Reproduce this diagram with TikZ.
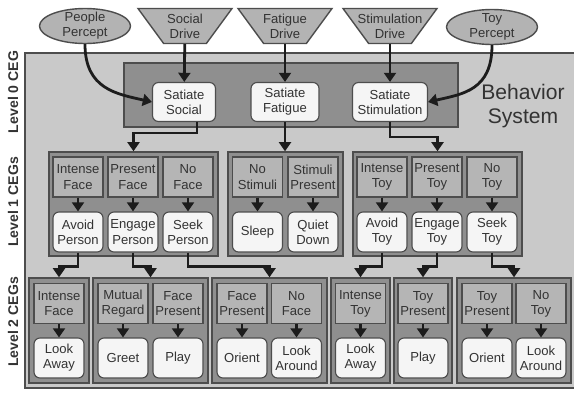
\documentclass[tikz,border=0pt]{standalone}
\usepackage{fontspec}
\setmainfont{Liberation Sans}
\usetikzlibrary{shapes.geometric,arrows.meta}

\tikzset{
    base/.style={font=\fontsize{9.3}{10.8}\selectfont, text=textColour, align=center},
    lbl/.style={base, inner sep=0pt},
    percept/.style={ellipse, draw=borderColour, fill=inputColour, line width=1pt,
        minimum width=22.75mm, minimum height=8.75mm, inner sep=1pt},
    drive/.style={trapezium, shape border rotate=180, trapezium stretches=true,
        trapezium left angle=59, trapezium right angle=59, draw=borderColour,
        fill=inputColour, line width=1pt,
        minimum width=23.5mm, minimum height=8.75mm, inner sep=1pt},
    ceg/.style={draw=borderColour, fill=cegColour, line width=1pt, inner sep=0pt},
    cond/.style={base, draw=borderColour, fill=condColour, line width=0.8pt,
        minimum width=12.5mm, minimum height=10mm, inner sep=1pt},
    behav/.style={base, draw=borderColour, fill=behavColour, line width=0.8pt,
        rounded corners=1.5mm, minimum width=12.5mm, minimum height=10mm, inner sep=1pt},
    conn/.style={draw=connColour, line width=2pt, -{Triangle[width=8.5pt,length=6.5pt]}},
    level/.style={rotate=90, font=\fontsize{10}{12}\selectfont\bfseries,
        text=textColour, inner sep=0pt}
}

\begin{document}
\begin{tikzpicture}[x=0.25mm, y=-0.25mm]
    \definecolor{borderColour}{HTML}{4D4D4D}
    \definecolor{connColour}{HTML}{1C1C1C}
    \definecolor{textColour}{HTML}{333333}
    \definecolor{panelColour}{HTML}{C9C9C9}
    \definecolor{inputColour}{HTML}{B3B3B3}
    \definecolor{cegColour}{HTML}{8F8F8F}
    \definecolor{condColour}{HTML}{B5B5B5}
    \definecolor{behavColour}{HTML}{F5F5F5}

    \useasboundingbox (0,0) rectangle (574,392);

    % Draw behavior system panel
    \fill[panelColour] (25,53) rectangle (580,388);
    \draw[borderColour, line width=1pt] (580,53) -- (25,53) -- (25,388) -- (580,388);
    \node[base, font=\fontsize{15}{17.5}\selectfont] (behsys) at (523,106) {Behavior\\System};

    % Level labels
    \node[level] (lvl0) at (13,92) {Level 0 CEG};
    \node[level] (lvl1) at (13,202) {Level 1 CEGs};
    \node[level] (lvl2) at (13,322) {Level 2 CEGs};

    % Percepts and drives
    \node[percept] (people) at (85,26) {};
    \node[lbl] (peoplet) at (people) {People\\Percept};
    \node[drive] (social) at (185,26) {};
    \node[lbl] (socialt) at (social) {Social\\Drive};
    \node[drive] (fatigue) at (285,26) {};
    \node[lbl] (fatiguet) at (fatigue) {Fatigue\\Drive};
    \node[drive] (stim) at (390,26) {};
    \node[lbl] (stimt) at (stim) {Stimulation\\Drive};
    \node[percept] (toy) at (492,27) {};
    \node[lbl] (toyt) at (toy) {Toy\\Percept};

    % Level 0 CEG
    \node[ceg, minimum width=83.5mm, minimum height=16mm] (l0) at (291,95) {};
    \node[behav, minimum width=15.75mm, minimum height=9.75mm] (satsoc) at (184,102) {Satiate\\Social};
    \node[behav, minimum width=17mm, minimum height=9.75mm] (satfat) at (285,102) {Satiate\\Fatigue};
    \node[behav, minimum width=18.75mm, minimum height=9.75mm] (satstim) at (390,102) {Satiate\\Stimulation};

    % Level 1 CEGs
    \node[ceg, minimum width=42.25mm, minimum height=26mm] (l1soc) at (133.5,204) {};
    \node[ceg, minimum width=28.75mm, minimum height=26mm] (l1fat) at (285.5,204) {};
    \node[ceg, minimum width=42.25mm, minimum height=26mm] (l1toy) at (437.5,204) {};
    \foreach \n/\x/\c/\b in {ifc/78/{Intense\\Face}/{Avoid\\Person},
                             pfc/133/{Present\\Face}/{Engage\\Person},
                             nfc/188/{No\\Face}/{Seek\\Person},
                             nst/257.5/{No\\Stimuli}/{Sleep},
                             spr/313/{Stimuli\\Present}/{Quiet\\Down},
                             ity/382/{Intense\\Toy}/{Avoid\\Toy},
                             pty/437/{Present\\Toy}/{Engage\\Toy},
                             nty/492/{No\\Toy}/{Seek\\Toy}} {
        \node[cond] (c\n) at (\x,177) {\c};
        \node[behav] (b\n) at (\x,232) {\b};
        \draw[conn] (c\n) -- (b\n);
    }

    % Level 2 CEGs
    \node[ceg, minimum width=15mm, minimum height=26.25mm] (l2a) at (59,330.5) {};
    \node[ceg, minimum width=28.75mm, minimum height=26.25mm] (l2b) at (150.5,330.5) {};
    \node[ceg, minimum width=28.75mm, minimum height=26.25mm] (l2c) at (269.5,330.5) {};
    \node[ceg, minimum width=14.75mm, minimum height=26.25mm] (l2d) at (360.5,330.5) {};
    \node[ceg, minimum width=14.5mm, minimum height=26.25mm] (l2e) at (423,330.5) {};
    \node[ceg, minimum width=28.5mm, minimum height=26.25mm] (l2f) at (514,330.5) {};
    \foreach \n/\x/\c/\b in {aif/59/{Intense\\Face}/{Look\\Away},
                             amr/123/{Mutual\\Regard}/{Greet},
                             afp/178/{Face\\Present}/{Play},
                             bfp/242/{Face\\Present}/{Orient},
                             bnf/296.5/{No\\Face}/{Look\\Around},
                             ait/360.5/{Intense\\Toy}/{Look\\Away},
                             atp/423/{Toy\\Present}/{Play},
                             btp/487/{Toy\\Present}/{Orient},
                             bnt/541/{No\\Toy}/{Look\\Around}} {
        \node[cond] (c\n) at (\x,303.5) {\c};
        \node[behav] (b\n) at (\x,358) {\b};
        \draw[conn] (c\n) -- (b\n);
    }

    % Inputs to level 0
    \draw[conn] (social) -- (satsoc);
    \draw[conn] (fatigue) -- (satfat);
    \draw[conn] (stim) -- (satstim);
    \draw[conn] (people.south) .. controls +(0,45) and +(-35,-8) .. (satsoc.west);
    \draw[conn] (toy.south) .. controls +(0,45) and +(35,-8) .. (satstim.east);

    % Level 0 to level 1
    \draw[conn] ([xshift=3.25mm]satsoc.south) -- ++(0,11) -| (l1soc.north);
    \draw[conn] (satfat.south) -- (satfat.south |- l1fat.north);
    \draw[conn] (satstim.south) -- ++(0,15) -| (l1toy.north);

    % Level 1 to level 2
    \draw[conn] (bifc.south) -- ++(0,14) -| (l2a.north);
    \draw[conn] (bpfc.south) -- ++(0,14) -| (l2b.north);
    \draw[conn] (bnfc.south) -- ++(0,14) -| (l2c.north);
    \draw[conn] (bity.south) -- ++(0,14) -| (l2d.north);
    \draw[conn] (bpty.south) -- ++(0,14) -| (l2e.north);
    \draw[conn] (bnty.south) -- ++(0,14) -| (l2f.north);

\end{tikzpicture}
\end{document}
